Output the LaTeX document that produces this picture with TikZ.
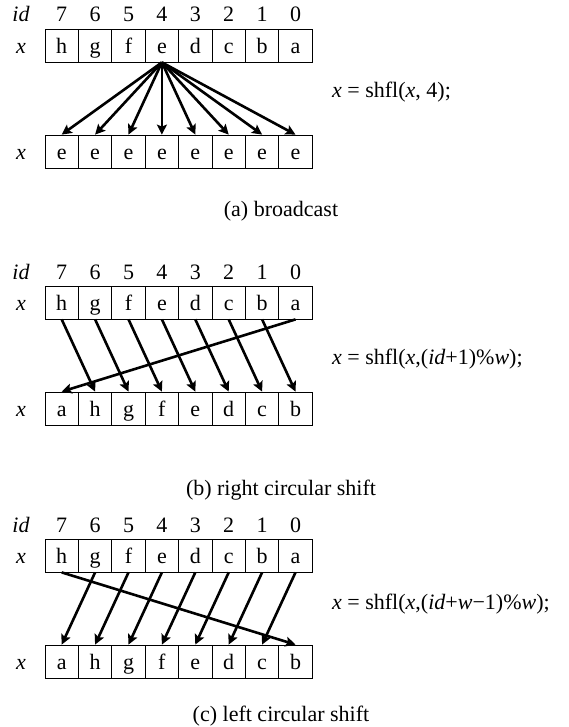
\documentclass[tikz,border=0pt]{standalone}
\usepackage{fontspec}
\setmainfont{Liberation Serif}
\usetikzlibrary{arrows.meta}
\begin{document}
\begin{tikzpicture}[x=1pt,y=-1pt,
  cell/.style={draw, line width=0.8pt, minimum width=33.4pt, minimum height=33pt,
    inner sep=0pt, text height=16pt, text depth=0pt, font=\fontsize{22}{26}\selectfont},
  lbl/.style={inner sep=0pt, anchor=base, font=\fontsize{22}{26}\selectfont},
  formula/.style={inner sep=0pt, anchor=base west, font=\fontsize{22}{26}\selectfont},
  caption/.style={inner sep=0pt, anchor=base, font=\fontsize{22}{26}\selectfont},
  arr/.style={line width=2.6pt, -{Stealth[length=10pt,width=10pt,inset=2pt]}},
]
\useasboundingbox (0,0) rectangle (568,727);

% ---------- panel (a) ----------
\node[lbl] (ida) at (21,22) {\textit{id}};
\node[lbl] (xta) at (21,53.5) {\textit{x}};
\node[lbl] (xba) at (21,159.5) {\textit{x}};
\foreach \d [count=\i from 0] in {7,6,5,4,3,2,1,0}
  \node[lbl] (ida\i) at ({45+33.4*(\i+0.5)},22) {\d};
\foreach \l [count=\i from 0] in {h,g,f,e,d,c,b,a}
  \node[cell] (ta\i) at ({45+33.4*(\i+0.5)},45.5) {\l};
\foreach \i in {0,...,7}
  \node[cell] (ba\i) at ({45+33.4*(\i+0.5)},151.5) {e};
\foreach \i in {0,...,7}
  \draw[arr] (ta3.south) -- (ba\i.north);
\node[formula] (fa) at (332,98) {\textit{x} = shfl(\textit{x}, 4);};
\node[caption] (ca) at (281,216) {(a) broadcast};

% ---------- panel (b) ----------
\node[lbl] (idb) at (21,279) {\textit{id}};
\node[lbl] (xtb) at (21,310.5) {\textit{x}};
\node[lbl] (xbb) at (21,416.5) {\textit{x}};
\foreach \d [count=\i from 0] in {7,6,5,4,3,2,1,0}
  \node[lbl] (idb\i) at ({45+33.4*(\i+0.5)},279) {\d};
\foreach \l [count=\i from 0] in {h,g,f,e,d,c,b,a}
  \node[cell] (tb\i) at ({45+33.4*(\i+0.5)},302.5) {\l};
\foreach \l [count=\i from 0] in {a,h,g,f,e,d,c,b}
  \node[cell] (bb\i) at ({45+33.4*(\i+0.5)},408.5) {\l};
\foreach \i [evaluate=\i as \j using int(\i+1)] in {0,...,6}
  \draw[arr] (tb\i.south) -- (bb\j.north);
\draw[arr] (tb7.south) -- (bb0.north);
\node[formula] (fb) at (332,364) {\textit{x} = shfl(\textit{x},(\textit{id}+1)\%\textit{w});};
\node[caption] (cb) at (281,495) {(b) right circular shift};

% ---------- panel (c) ----------
\node[lbl] (idc) at (21,532) {\textit{id}};
\node[lbl] (xtc) at (21,563.5) {\textit{x}};
\node[lbl] (xbc) at (21,669.5) {\textit{x}};
\foreach \d [count=\i from 0] in {7,6,5,4,3,2,1,0}
  \node[lbl] (idc\i) at ({45+33.4*(\i+0.5)},532) {\d};
\foreach \l [count=\i from 0] in {h,g,f,e,d,c,b,a}
  \node[cell] (tc\i) at ({45+33.4*(\i+0.5)},555.5) {\l};
\foreach \l [count=\i from 0] in {a,h,g,f,e,d,c,b}
  \node[cell] (bc\i) at ({45+33.4*(\i+0.5)},661.5) {\l};
\foreach \i [evaluate=\i as \j using int(\i-1)] in {1,...,7}
  \draw[arr] (tc\i.south) -- (bc\j.north);
\draw[arr] (tc0.south) -- (bc7.north);
\node[formula] (fc) at (332,609) {\textit{x} = shfl(\textit{x},(\textit{id}+\textit{w}−1)\%\textit{w});};
\node[caption] (cc) at (281,721) {(c) left circular shift};
\end{tikzpicture}
\end{document}
